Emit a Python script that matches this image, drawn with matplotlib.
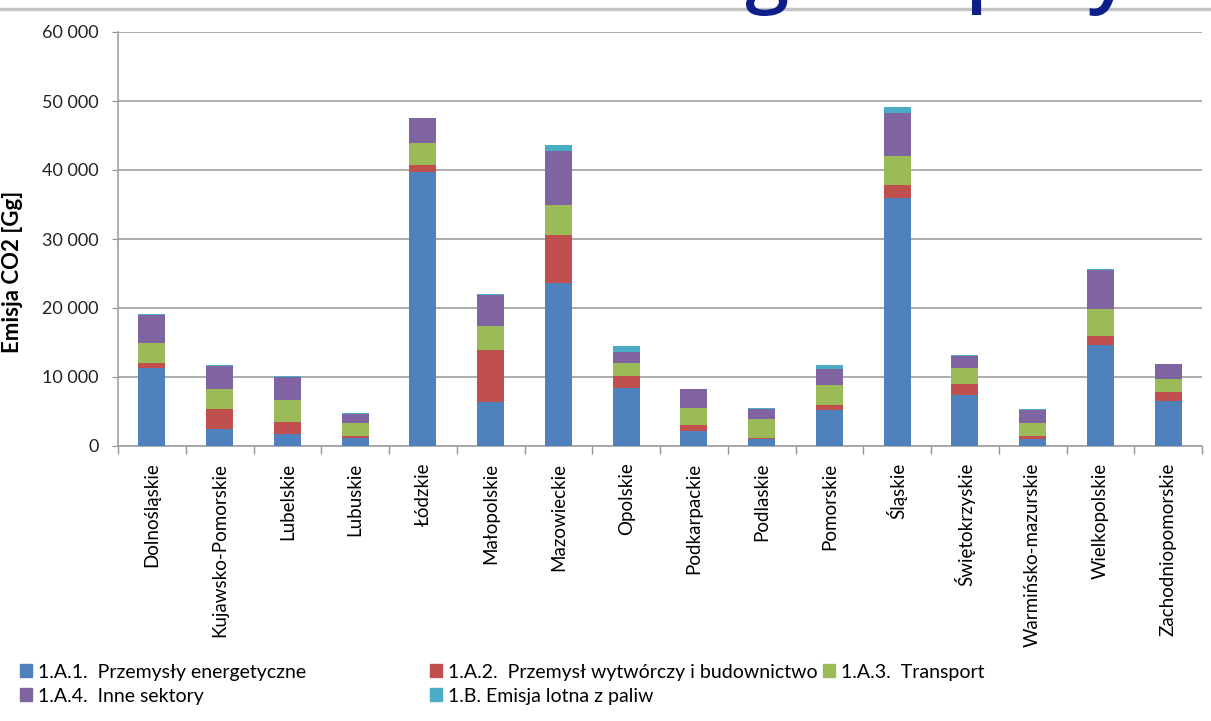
import numpy as np
import matplotlib.pyplot as plt
from matplotlib.lines import Line2D
from matplotlib.patches import Patch, PathPatch
from matplotlib.textpath import TextPath
from matplotlib.font_manager import FontProperties
from matplotlib.transforms import IdentityTransform, Affine2D

regions = ['Dolnośląskie', 'Kujawsko-Pomorskie', 'Lubelskie', 'Lubuskie', 'Łódzkie',
           'Małopolskie', 'Mazowieckie', 'Opolskie', 'Podkarpackie', 'Podlaskie',
           'Pomorskie', 'Śląskie', 'Świętokrzyskie', 'Warmińsko-mazurskie',
           'Wielkopolskie', 'Zachodniopomorskie']

# emisja CO2 [Gg] wg sektorow
energetyka = [11350, 2400, 1800, 1150, 39700, 6400, 23570, 8450, 2200, 950, 5150, 35900, 7350, 1050, 14700, 6500]
przemysl = [630, 2900, 1700, 250, 1000, 7500, 6950, 1700, 800, 200, 800, 1900, 1600, 400, 1200, 1350]
transport = [3000, 3000, 3100, 2000, 3250, 3550, 4400, 1850, 2550, 2700, 2850, 4200, 2400, 1950, 4000, 1900]
inne = [4050, 3300, 3450, 1250, 3600, 4500, 7800, 1650, 2650, 1550, 2400, 6300, 1700, 1850, 5650, 2150]
lotna = [50, 100, 80, 150, 50, 150, 850, 850, 50, 50, 600, 800, 80, 150, 50, 50]

series = [energetyka, przemysl, transport, inne, lotna]
names = ['1.A.1.  Przemysły energetyczne', '1.A.2.  Przemysł wytwórczy i budownictwo',
         '1.A.3.  Transport', '1.A.4.  Inne sektory', '1.B. Emisja lotna z paliw']
colors = ['#4F81BD', '#C0504D', '#9BBB59', '#8064A2', '#4BACC6']
y_ticks = [0, 10000, 20000, 30000, 40000, 50000, 60000]

plt.rcParams['font.family'] = ['Lato', 'DejaVu Sans']

W, H = 1211, 721
fig = plt.figure(figsize=(W / 100, H / 100), dpi=100)
ax = fig.add_axes([118 / W, 1 - 446 / H, 1084 / W, 414 / H])

x = np.arange(len(regions))
bottom = np.zeros(len(regions))
for vals, col in zip(series, colors):
    ax.bar(x, vals, width=0.4, bottom=bottom, color=col, zorder=3)
    bottom += np.array(vals)

ax.set_xlim(-0.5, len(regions) - 0.5)
ax.set_ylim(0, 60000)
ax.set_yticks(y_ticks)
ax.set_yticklabels([f'{v:,}'.replace(',', ' ') for v in y_ticks])
ax.yaxis.grid(True, color='#a6a6a6', lw=1.3, zorder=0)

ax.set_xticks(x)
ax.set_xticklabels(regions, rotation=90, va='top', ha='center', fontsize=13.5)
ax.set_xticks(np.arange(-0.5, len(regions)), minor=True)
ax.tick_params(axis='x', which='major', length=0, pad=12)
ax.tick_params(axis='x', which='minor', length=6, color='#909090', width=1)
ax.tick_params(axis='y', length=4, color='#909090', pad=10, labelsize=13, labelcolor='#222222')

for s in ['top', 'right']:
    ax.spines[s].set_visible(False)
for s in ['left', 'bottom']:
    ax.spines[s].set_color('#a0a0a0')
    ax.spines[s].set_linewidth(1.2)

ax.set_ylabel('Emisja CO2 [Gg]', fontsize=16, fontweight='bold')
ax.yaxis.set_label_coords(-0.088, 0.42)

# legenda w trzech kolumnach jak w oryginale
handles = [Patch(color=c) for c in colors]
legend_cols = [([0, 3], 12), ([1, 4], 422), ([2], 815)]
for idx, xpos in legend_cols:
    fig.legend([handles[i] for i in idx], [names[i] for i in idx],
               loc='upper left', bbox_to_anchor=(xpos / W, 1 - 656 / H),
               frameon=False, fontsize=14, handlelength=0.65, handleheight=0.65,
               handletextpad=0.3, labelspacing=0.35, borderaxespad=0)

# fragment tytulu slajdu (ucięty u gory) i linia
fig.add_artist(Line2D([0, 1], [1 - 9 / H, 1 - 9 / H], color='#c4c4c4', lw=2.5, zorder=1))
title_font = FontProperties(family='Open Sans', weight='semibold')
em_px = 80
xh = TextPath((0, 0), 'x', size=100, prop=title_font).get_extents().height
scale = 0.535 * em_px / xh
# (litera, lewa krawedz glifu, dol glifu od gory obrazka)
for letter, left, low in [('g', 746, 16), ('p', 972, 15), ('y', 1088, 16)]:
    tp = TextPath((0, 0), letter, size=100, prop=title_font)
    p = Affine2D().scale(scale).transform_path(tp)
    ext = p.get_extents()
    p = Affine2D().translate(left - ext.x0, (H - low) - ext.y0).transform_path(p)
    fig.add_artist(PathPatch(p, transform=IdentityTransform(), color='#0f1f8a', lw=0, zorder=2))

fig.savefig('out.png', dpi=100)
